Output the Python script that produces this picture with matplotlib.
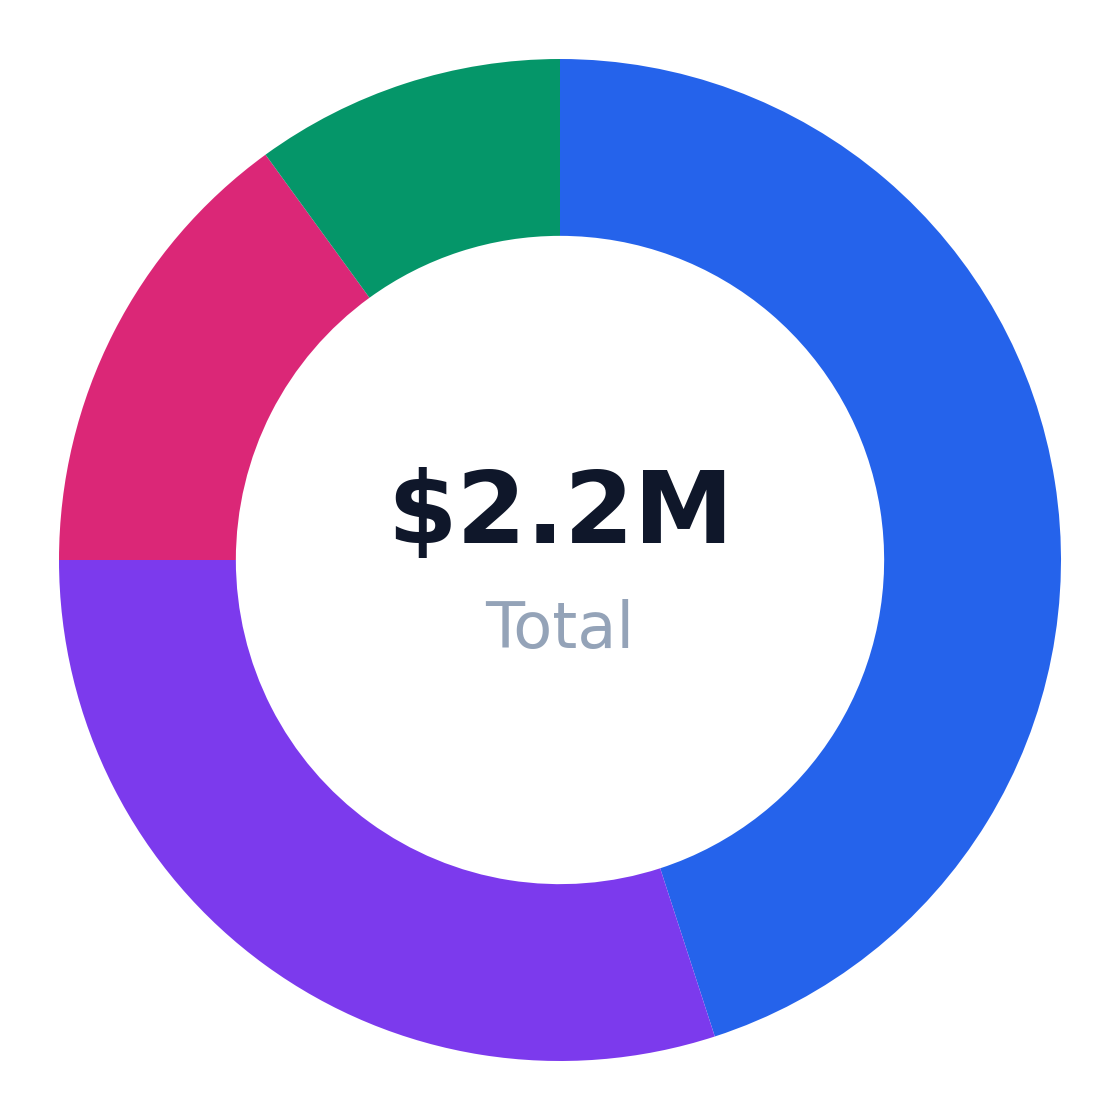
import matplotlib
matplotlib.use("Agg")
import matplotlib.pyplot as plt

# segment values in $M (45 / 30 / 15 / 10 %)
labels = ["Blue", "Purple", "Pink", "Green"]
values = [0.99, 0.66, 0.33, 0.22]
colors = ["#2563EB", "#7C3AED", "#DB2777", "#059669"]
total_label = "$2.2M"
sub_label = "Total"

fig = plt.figure(figsize=(11.2, 11.2), dpi=100)
ax = fig.add_axes([0, 0, 1, 1])

ax.pie(values, colors=colors, startangle=90, counterclock=False,
       radius=1.0, wedgeprops=dict(width=0.353, linewidth=0))

lim = 560 / 501
ax.set_xlim(-lim, lim)
ax.set_ylim(-lim, lim)
ax.set_aspect("equal")
ax.axis("off")

ax.text(0, 0.034, total_label, ha="center", va="baseline",
        fontsize=72, fontweight="bold", color="#0F172A")
ax.text(0, -0.176, sub_label, ha="center", va="baseline",
        fontsize=46, color="#94A3B8")

fig.savefig("out.png", dpi=100, facecolor="white")
